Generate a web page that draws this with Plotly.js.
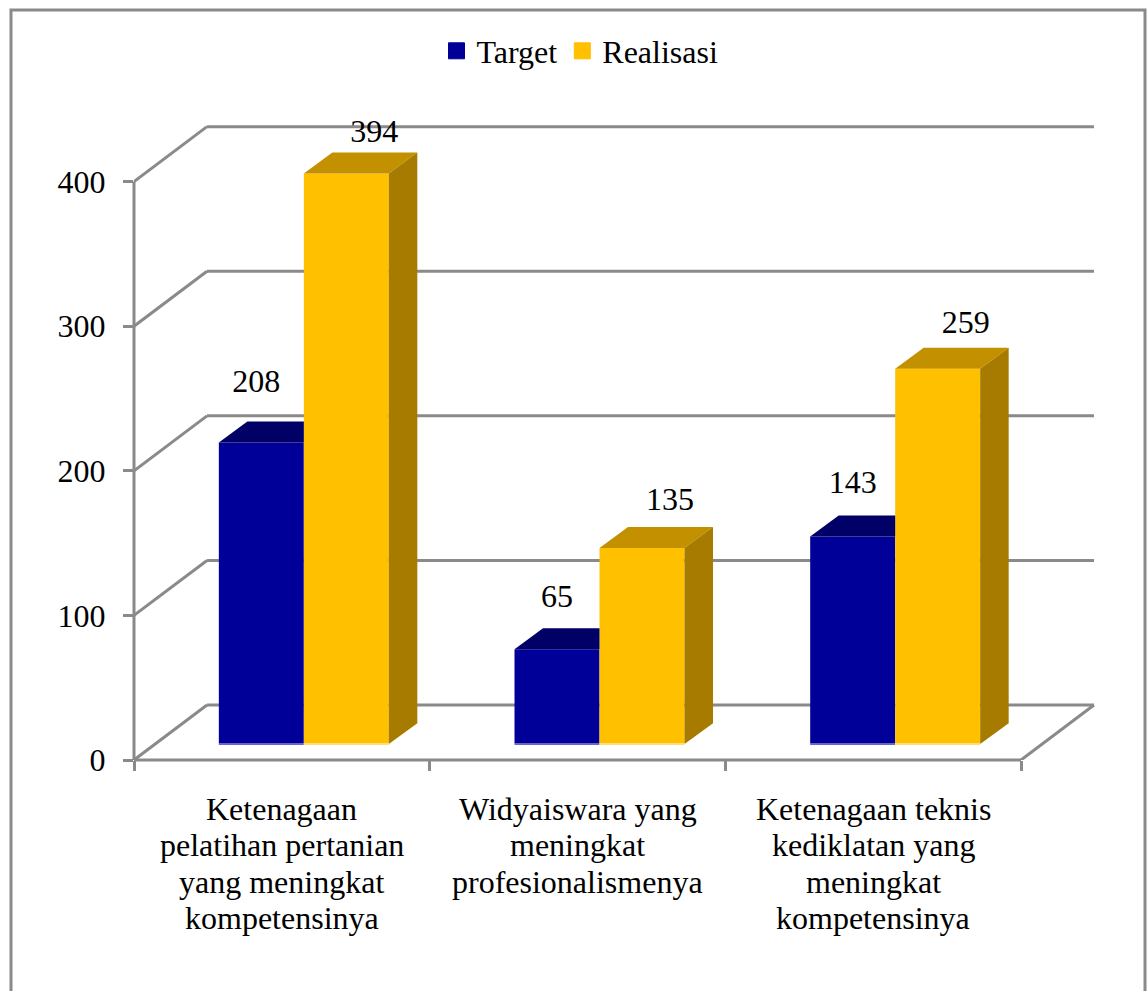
<!DOCTYPE html>
<html>
<head>
<meta charset="utf-8">
<script src="https://cdn.plot.ly/plotly-3.0.1.min.js"></script>
<style>html,body{margin:0;padding:0;background:#fff;overflow:hidden}</style>
</head>
<body>
<div id="chart" style="width:1147px;height:991px"></div>
<script>
// Chart values
const categoryLines = [
  ["Ketenagaan", "pelatihan pertanian", "yang meningkat", "kompetensinya"],
  ["Widyaiswara yang", "meningkat", "profesionalismenya"],
  ["Ketenagaan teknis", "kediklatan yang", "meningkat", "kompetensinya"]
];
const target = [208, 65, 143];
const realisasi = [394, 135, 259];
const yTicks = [0, 100, 200, 300, 400];

// Pseudo-3D geometry, in axis units
const W = 1147, H = 991;
const plot = {l: 134, r: 51, t: 100, b: 231};
const catPx = 295.67, yPx = 1.446;
const xMax = (W - plot.l - plot.r) / catPx;
const yMax = (H - plot.t - plot.b) / yPx;
const wallDx = 73 / catPx, wallDy = 38;
const barShift = 22 / catPx, barBase = 11.6, barFoot = 11;
const barW = 85 / catPx;
const capDx = 28.5 / catPx, capDy = 14.5;
const labelSideShift = 28 / catPx;
const targetLift = [40.5, 35, 35.5];
const targetNudge = [-5 / catPx, 0, 0];
const realisasiLift = [27.5, 31.5, 30];

const BLUE = "#000099", BLUE_TOP = "#000066", BLUE_EDGE = "#6666cc";
const GOLD = "#FFC000", GOLD_TOP = "#C39000", GOLD_SIDE = "#A67B00", GOLD_EDGE = "#FFDD77";
const GREY = "#8a8a8a";
const FONT = "Liberation Serif, Times New Roman, serif";

const joints = target.map((_, i) => i + 0.5 + barShift);

function poly(xs, ys, color) {
  return {type: "scatter", mode: "lines", x: xs.concat(xs[0]), y: ys.concat(ys[0]),
          fill: "toself", fillcolor: color, line: {width: 0, color: color},
          showlegend: false, hoverinfo: "skip"};
}

const traces = [];

// Front faces of the bars
traces.push({type: "bar", x: joints, y: target, base: barBase, width: barW, offset: -barW,
             marker: {color: BLUE}, showlegend: false, hoverinfo: "skip"});
traces.push({type: "bar", x: joints, y: realisasi, base: barBase, width: barW, offset: 0,
             marker: {color: GOLD}, showlegend: false, hoverinfo: "skip"});

joints.forEach((j, i) => {
  // Target cap stops where the neighbouring bar begins
  const tTop = target[i] + barBase;
  const tx0 = j - barW;
  traces.push(poly([tx0, tx0 + capDx, j, j], [tTop, tTop + capDy, tTop + capDy, tTop], BLUE_TOP));

  // Realisasi cap and side face
  const rTop = realisasi[i] + barBase;
  const rx1 = j + barW;
  traces.push(poly([j, j + capDx, rx1 + capDx, rx1], [rTop, rTop + capDy, rTop + capDy, rTop], GOLD_TOP));
  traces.push(poly([rx1, rx1 + capDx, rx1 + capDx, rx1],
                   [barFoot, barFoot + capDy, rTop + capDy, rTop], GOLD_SIDE));

  // Light edge along the foot of each bar
  traces.push({type: "scatter", mode: "lines", x: [tx0, j], y: [barFoot, barFoot],
               line: {color: BLUE_EDGE, width: 2}, showlegend: false, hoverinfo: "skip"});
  traces.push({type: "scatter", mode: "lines", x: [j, rx1], y: [barFoot, barFoot],
               line: {color: GOLD_EDGE, width: 2}, showlegend: false, hoverinfo: "skip"});
});

// Value labels
traces.push({type: "scatter", mode: "text",
             x: joints.map((j, i) => j - barW / 2 + targetNudge[i]),
             y: target.map((v, i) => v + barBase + targetLift[i]),
             text: target.map(String), textposition: "middle center",
             textfont: {family: FONT, size: 32, color: "#000"},
             cliponaxis: false, showlegend: false, hoverinfo: "skip"});
traces.push({type: "scatter", mode: "text",
             x: joints.map(j => j + barW / 2 + labelSideShift),
             y: realisasi.map((v, i) => v + barBase + realisasiLift[i]),
             text: realisasi.map(String), textposition: "middle center",
             textfont: {family: FONT, size: 32, color: "#000"},
             cliponaxis: false, showlegend: false, hoverinfo: "skip"});

// Legend entries
traces.push({type: "scatter", mode: "markers", name: "Target", x: [null], y: [null],
             marker: {symbol: "square", size: 16, color: BLUE, line: {color: BLUE, width: 1}}, hoverinfo: "skip"});
traces.push({type: "scatter", mode: "markers", name: "Realisasi", x: [null], y: [null],
             marker: {symbol: "square", size: 16, color: GOLD, line: {color: GOLD, width: 1}}, hoverinfo: "skip"});

// Walls and floor
function seg(x0, y0, x1, y1) {
  return {type: "line", xref: "x", yref: "y", x0, y0, x1, y1, layer: "below",
          line: {color: GREY, width: 3}};
}
const shapes = [];
yTicks.forEach(v => {
  shapes.push(seg(0, v, wallDx, v + wallDy));
  shapes.push(seg(wallDx, v + wallDy, 3 + wallDx, v + wallDy));
});
shapes.push(seg(3, 0, 3 + wallDx, wallDy));

// Axis lines sit on the plot edge, so one reference of each is paper-based
shapes.push({type: "line", xref: "paper", yref: "y", x0: 0, x1: 0, y0: 0,
             y1: yTicks[yTicks.length - 1], layer: "below", line: {color: GREY, width: 3}});
shapes.push({type: "line", xref: "x", yref: "paper", x0: 0, x1: 3, y0: 0, y1: 0,
             layer: "below", line: {color: GREY, width: 3}});

// Outer frame, running off the bottom of the page
const plotW = W - plot.l - plot.r, plotH = H - plot.t - plot.b;
shapes.push({type: "rect", xref: "paper", yref: "paper",
             x0: (11 - plot.l) / plotW, x1: (1145 - plot.l) / plotW,
             y0: (H - plot.b - 1010) / plotH, y1: (H - plot.b - 10) / plotH,
             layer: "below", line: {color: GREY, width: 3}, fillcolor: "rgba(0,0,0,0)"});

// Category labels, one annotation per line for the tight leading
const annotations = [];
categoryLines.forEach((lines, c) => {
  lines.forEach((line, k) => {
    annotations.push({xref: "x", yref: "y", x: c + 0.5, y: 0, yanchor: "middle", xanchor: "center",
                      yshift: -49 - k * 36.4, text: line, showarrow: false,
                      font: {family: FONT, size: 32, color: "#000"}});
  });
});

const layout = {
  width: W, height: H,
  margin: plot,
  paper_bgcolor: "#fff", plot_bgcolor: "rgba(0,0,0,0)",
  barmode: "overlay",
  font: {family: FONT, size: 32, color: "#000"},
  showlegend: true,
  legend: {orientation: "h", x: (580 - plot.l) / plotW, xanchor: "center",
           y: (H - plot.b - 51) / plotH, yanchor: "middle",
           font: {family: FONT, size: 32, color: "#000"}, bgcolor: "rgba(0,0,0,0)"},
  xaxis: {range: [0, xMax], tickmode: "array", tickvals: [0, 1, 2, 3], ticktext: ["", "", "", ""],
          ticks: "outside", ticklen: 10, tickwidth: 3, tickcolor: GREY,
          showgrid: false, zeroline: false, showline: false, fixedrange: true},
  yaxis: {range: [0, yMax], tickmode: "array", tickvals: yTicks, ticks: "outside",
          ticklen: 10, tickwidth: 3, tickcolor: GREY, ticklabelstandoff: 11,
          tickfont: {family: FONT, size: 32, color: "#000"},
          showgrid: false, zeroline: false, showline: false, fixedrange: true},
  shapes, annotations
};

Plotly.newPlot("chart", traces, layout, {displayModeBar: false, staticPlot: true});
</script>
</body>
</html>
